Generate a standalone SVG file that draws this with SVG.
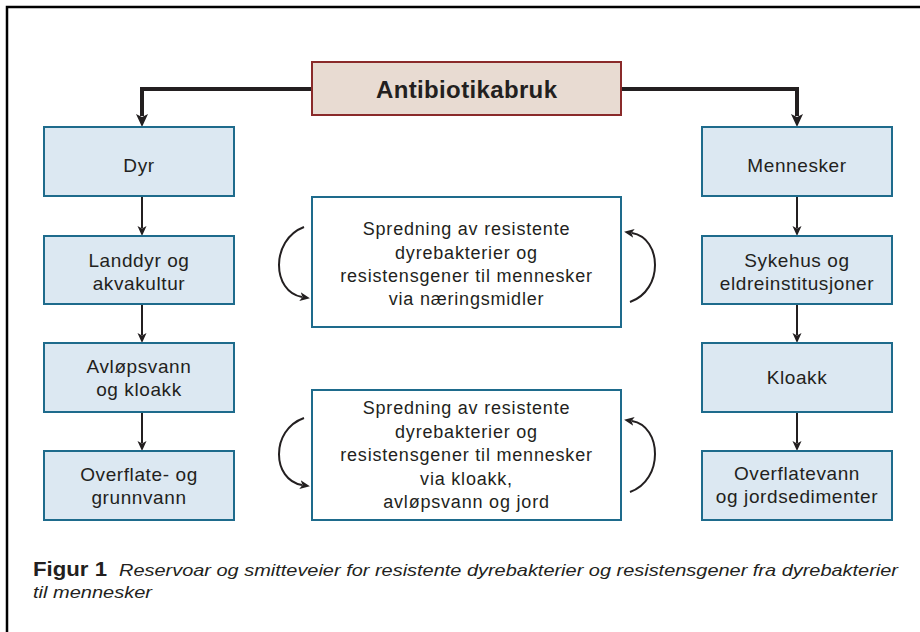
<svg xmlns="http://www.w3.org/2000/svg" width="920" height="632" viewBox="0 0 920 632">
<style>
.box{fill:#dce8f2;stroke:#1e6b8c;stroke-width:2}
.mid{fill:#ffffff;stroke:#1e6b8c;stroke-width:2}
.top{fill:#e8dbd2;stroke:#8a2a2a;stroke-width:2}
.t{font-family:"Liberation Sans",Arial,sans-serif;font-size:19px;letter-spacing:0.6px;fill:#231f20;text-anchor:middle}
.tm{font-family:"Liberation Sans",Arial,sans-serif;font-size:18px;letter-spacing:0.8px;fill:#231f20;text-anchor:middle}
.tb{font-family:"Liberation Sans",Arial,sans-serif;font-size:24px;font-weight:bold;fill:#231f20;text-anchor:middle}
.thick{fill:none;stroke:#231f20;stroke-width:4}
.thin{fill:none;stroke:#231f20;stroke-width:2}
.cap{font-family:"Liberation Sans",Arial,sans-serif;fill:#231f20}
</style>
<defs>
<marker id="ah" markerUnits="userSpaceOnUse" markerWidth="14" markerHeight="14" viewBox="0 -7 14 14" refX="2" refY="0" orient="auto"><path d="M0,-6 L13,0 L0,6 L3,0 z" fill="#231f20"/></marker>
<marker id="as" markerUnits="userSpaceOnUse" markerWidth="12" markerHeight="12" viewBox="0 -6 12 12" refX="2" refY="0" orient="auto"><path d="M0,-4.5 L10,0 L0,4.5 L2.5,0 z" fill="#231f20"/></marker>
</defs>
<rect x="0" y="0" width="920" height="632" fill="#ffffff"/>
<rect x="7" y="7" width="960" height="700" fill="none" stroke="#000" stroke-width="2.5"/>

<g id="connectors">
<path class="thick" d="M312,89 H142 V116" marker-end="url(#ah)"/>
<path class="thick" d="M621,89 H797 V116" marker-end="url(#ah)"/>
<path class="thin" d="M142,196 V228" marker-end="url(#as)"/>
<path class="thin" d="M142,304 V335" marker-end="url(#as)"/>
<path class="thin" d="M142,412 V443" marker-end="url(#as)"/>
<path class="thin" d="M797,196 V228" marker-end="url(#as)"/>
<path class="thin" d="M797,304 V335" marker-end="url(#as)"/>
<path class="thin" d="M797,412 V443" marker-end="url(#as)"/>
<path class="thin" d="M304,227 C270,240 272,292 302,297" marker-end="url(#as)"/>
<path class="thin" d="M630,302 C664,290 662,238 632,233" marker-end="url(#as)"/>
<path class="thin" d="M304,418 C270,430 272,480 302,485" marker-end="url(#as)"/>
<path class="thin" d="M630,492 C664,480 662,426 632,421" marker-end="url(#as)"/>
</g>

<g id="antibiotikabruk"><rect class="top" x="312" y="62" width="309" height="53"/><text class="tb" x="466.5" y="98" textLength="181">Antibiotikabruk</text></g>

<g id="dyr"><rect class="box" x="44" y="127" width="190" height="69"/><text class="t" x="139" y="172">Dyr</text></g>
<g id="landdyr"><rect class="box" x="44" y="236" width="190" height="68"/><text class="t" x="139" y="267">Landdyr og</text><text class="t" x="139" y="290">akvakultur</text></g>
<g id="avlopsvann"><rect class="box" x="44" y="343" width="190" height="69"/><text class="t" x="139" y="373">Avløpsvann</text><text class="t" x="139" y="396">og kloakk</text></g>
<g id="overflate"><rect class="box" x="44" y="451" width="190" height="69"/><text class="t" x="139" y="481">Overflate- og</text><text class="t" x="139" y="504">grunnvann</text></g>

<g id="mennesker"><rect class="box" x="702" y="127" width="190" height="69"/><text class="t" x="797" y="172">Mennesker</text></g>
<g id="sykehus"><rect class="box" x="702" y="236" width="190" height="68"/><text class="t" x="797" y="267">Sykehus og</text><text class="t" x="797" y="290">eldreinstitusjoner</text></g>
<g id="kloakk"><rect class="box" x="702" y="343" width="190" height="69"/><text class="t" x="797" y="384">Kloakk</text></g>
<g id="overflatevann"><rect class="box" x="702" y="451" width="190" height="69"/><text class="t" x="797" y="480">Overflatevann</text><text class="t" x="797" y="503">og jordsedimenter</text></g>

<g id="spredning1"><rect class="mid" x="312" y="197" width="309" height="130"/>
<text class="tm" x="466.5" y="235">Spredning av resistente</text>
<text class="tm" x="466.5" y="259">dyrebakterier og</text>
<text class="tm" x="466.5" y="282">resistensgener til mennesker</text>
<text class="tm" x="466.5" y="305">via næringsmidler</text></g>

<g id="spredning2"><rect class="mid" x="312" y="390" width="309" height="130"/>
<text class="tm" x="466.5" y="414">Spredning av resistente</text>
<text class="tm" x="466.5" y="437.5">dyrebakterier og</text>
<text class="tm" x="466.5" y="461">resistensgener til mennesker</text>
<text class="tm" x="466.5" y="484.5">via kloakk,</text>
<text class="tm" x="466.5" y="508">avløpsvann og jord</text></g>

<g id="caption">
<text class="cap" x="33" y="576" font-size="21" font-weight="bold" textLength="74" lengthAdjust="spacingAndGlyphs">Figur 1</text>
<text class="cap" x="119" y="576" font-size="17" font-style="italic" textLength="779" lengthAdjust="spacingAndGlyphs">Reservoar og smitteveier for resistente dyrebakterier og resistensgener fra dyrebakterier</text>
<text class="cap" x="33" y="598" font-size="17" font-style="italic" textLength="119" lengthAdjust="spacingAndGlyphs">til mennesker</text>
</g>
</svg>
